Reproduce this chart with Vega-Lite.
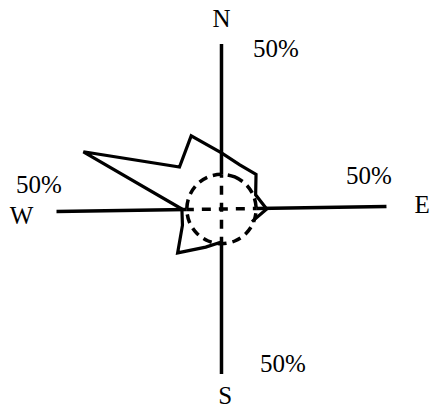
{
  "$schema": "https://vega.github.io/schema/vega-lite/v6.json",
  "width": 435,
  "height": 410,
  "autosize": {"type": "fit", "contains": "padding"},
  "padding": 0,
  "background": "white",
  "config": {"view": {"stroke": null}},
  "datasets": {
    "rose": [
      {"dir": "N", "deg": 0, "pct": 17},
      {"dir": "NNE", "deg": 22.5, "pct": 14.5},
      {"dir": "NE", "deg": 45, "pct": 14.8},
      {"dir": "ENE", "deg": 67.5, "pct": 11.2},
      {"dir": "E", "deg": 90, "pct": 13.7},
      {"dir": "ESE", "deg": 112.5, "pct": 10},
      {"dir": "SE", "deg": 135, "pct": 10},
      {"dir": "SSE", "deg": 157.5, "pct": 10},
      {"dir": "S", "deg": 180, "pct": 10},
      {"dir": "SSW", "deg": 202.5, "pct": 12.5},
      {"dir": "SW", "deg": 225, "pct": 18.8},
      {"dir": "WSW", "deg": 247.5, "pct": 12.8},
      {"dir": "W", "deg": 270, "pct": 12},
      {"dir": "WNW", "deg": 292.5, "pct": 45.3},
      {"dir": "NW", "deg": 315, "pct": 18},
      {"dir": "NNW", "deg": 337.5, "pct": 24}
    ],
    "calm": [
      {"deg": 0, "pct": 10.5}, {"deg": 22.5, "pct": 10.5}, {"deg": 45, "pct": 10.5}, {"deg": 67.5, "pct": 10.5},
      {"deg": 90, "pct": 10.5}, {"deg": 112.5, "pct": 10.5}, {"deg": 135, "pct": 10.5}, {"deg": 157.5, "pct": 10.5},
      {"deg": 180, "pct": 10.5}, {"deg": 202.5, "pct": 10.5}, {"deg": 225, "pct": 10.5}, {"deg": 247.5, "pct": 10.5},
      {"deg": 270, "pct": 10.5}, {"deg": 292.5, "pct": 10.5}, {"deg": 315, "pct": 10.5}, {"deg": 337.5, "pct": 10.5}
    ],
    "spokes": [
      {"kind": "solid", "deg": 0, "r0": 10.5, "r1": 50},
      {"kind": "solid", "deg": 89.1, "r0": 10.5, "r1": 50},
      {"kind": "solid", "deg": 180, "r0": 10.5, "r1": 50},
      {"kind": "solid", "deg": 269.1, "r0": 10.5, "r1": 50},
      {"kind": "dashed", "deg": 0, "r0": -10.5, "r1": 10.5},
      {"kind": "dashed", "deg": 89.1, "r0": -10.5, "r1": 10.5}
    ],
    "labels": [
      {"text": "N", "deg": 0, "r": 57.7},
      {"text": "E", "deg": 89, "r": 60.8},
      {"text": "S", "deg": 178.9, "r": 56.8},
      {"text": "W", "deg": 268, "r": 60.6},
      {"text": "50%", "deg": 18.8, "r": 51.2},
      {"text": "50%", "deg": 77.4, "r": 45.8},
      {"text": "50%", "deg": 158.4, "r": 50.5},
      {"text": "50%", "deg": 277.5, "r": 55.8}
    ]
  },
  "layer": [
    {
      "data": {"name": "spokes"},
      "transform": [
        {"filter": "datum.kind == 'solid'"},
        {"calculate": "datum.r0 * sin(datum.deg * PI / 180)", "as": "x0"},
        {"calculate": "datum.r0 * cos(datum.deg * PI / 180)", "as": "y0"},
        {"calculate": "datum.r1 * sin(datum.deg * PI / 180)", "as": "x1"},
        {"calculate": "datum.r1 * cos(datum.deg * PI / 180)", "as": "y1"}
      ],
      "mark": {"type": "rule", "stroke": "black", "strokeWidth": 3.5, "strokeCap": "butt"},
      "encoding": {
        "x": {"field": "x0", "type": "quantitative", "scale": {"domain": [-67.12, 64.7], "nice": false, "zero": false}, "axis": null},
        "y": {"field": "y0", "type": "quantitative", "scale": {"domain": [-60.91, 63.33], "nice": false, "zero": false}, "axis": null},
        "x2": {"field": "x1"},
        "y2": {"field": "y1"}
      }
    },
    {
      "data": {"name": "spokes"},
      "transform": [
        {"filter": "datum.kind == 'dashed'"},
        {"calculate": "datum.r0 * sin(datum.deg * PI / 180)", "as": "x0"},
        {"calculate": "datum.r0 * cos(datum.deg * PI / 180)", "as": "y0"},
        {"calculate": "datum.r1 * sin(datum.deg * PI / 180)", "as": "x1"},
        {"calculate": "datum.r1 * cos(datum.deg * PI / 180)", "as": "y1"}
      ],
      "mark": {"type": "rule", "stroke": "black", "strokeWidth": 3.5, "strokeCap": "butt", "strokeDash": [9, 8], "strokeDashOffset": 2},
      "encoding": {
        "x": {"field": "x0", "type": "quantitative", "scale": {"domain": [-67.12, 64.7], "nice": false, "zero": false}, "axis": null},
        "y": {"field": "y0", "type": "quantitative", "scale": {"domain": [-60.91, 63.33], "nice": false, "zero": false}, "axis": null},
        "x2": {"field": "x1"},
        "y2": {"field": "y1"}
      }
    },
    {
      "data": {"name": "calm"},
      "transform": [
        {"calculate": "datum.pct * sin(datum.deg * PI / 180)", "as": "px"},
        {"calculate": "datum.pct * cos(datum.deg * PI / 180)", "as": "py"}
      ],
      "mark": {"type": "line", "interpolate": "cardinal-closed", "stroke": "black", "strokeWidth": 3.5, "strokeDash": [9, 6], "strokeCap": "butt"},
      "encoding": {
        "x": {"field": "px", "type": "quantitative", "scale": {"domain": [-67.12, 64.7], "nice": false, "zero": false}, "axis": null},
        "y": {"field": "py", "type": "quantitative", "scale": {"domain": [-60.91, 63.33], "nice": false, "zero": false}, "axis": null},
        "order": {"field": "deg", "type": "quantitative"}
      }
    },
    {
      "data": {"name": "rose"},
      "transform": [
        {"filter": "datum.deg < 120 || datum.deg > 170"},
        {"calculate": "datum.pct * sin(datum.deg * PI / 180)", "as": "px"},
        {"calculate": "datum.pct * cos(datum.deg * PI / 180)", "as": "py"},
        {"calculate": "(datum.deg + 180) % 360", "as": "ord"}
      ],
      "mark": {"type": "line", "interpolate": "linear", "stroke": "black", "strokeWidth": 3.2, "strokeJoin": "miter"},
      "encoding": {
        "x": {"field": "px", "type": "quantitative", "scale": {"domain": [-67.12, 64.7], "nice": false, "zero": false}, "axis": null},
        "y": {"field": "py", "type": "quantitative", "scale": {"domain": [-60.91, 63.33], "nice": false, "zero": false}, "axis": null},
        "order": {"field": "ord", "type": "quantitative"}
      }
    },
    {
      "data": {"name": "labels"},
      "transform": [
        {"calculate": "datum.r * sin(datum.deg * PI / 180)", "as": "px"},
        {"calculate": "datum.r * cos(datum.deg * PI / 180)", "as": "py"}
      ],
      "mark": {"type": "text", "font": "Liberation Serif", "fontSize": 25, "fill": "black", "align": "center", "baseline": "middle"},
      "encoding": {
        "x": {"field": "px", "type": "quantitative", "scale": {"domain": [-67.12, 64.7], "nice": false, "zero": false}, "axis": null},
        "y": {"field": "py", "type": "quantitative", "scale": {"domain": [-60.91, 63.33], "nice": false, "zero": false}, "axis": null},
        "text": {"field": "text"}
      }
    }
  ]
}
